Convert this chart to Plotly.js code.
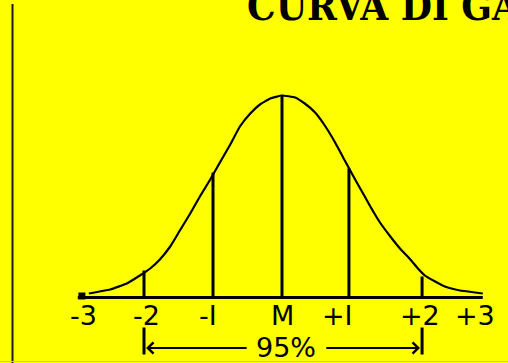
<!DOCTYPE html>
<html>
<head>
<meta charset="utf-8">
<script src="https://cdn.plot.ly/plotly-3.0.1.min.js"></script>
<style>
html,body{margin:0;padding:0;background:#ffff00;overflow:hidden;}
#chart{width:508px;height:363px;}
</style>
</head>
<body>
<div id="chart"></div>
<script>
// Bell curve: x in standard deviations from the mean, height in arbitrary units
var curveX = [-2.80,-2.49,-2.25,-2.06,-1.91,-1.77,-1.62,-1.48,-1.33,-1.19,-1.04,-0.90,-0.75,-0.61,-0.46,-0.32,-0.17,0.00,
              0.19,0.33,0.48,0.62,0.77,0.91,1.06,1.20,1.28,1.42,1.57,1.71,1.86,1.97,2.07,2.22,2.36,2.58,2.80,2.91];
var curveY = [4,8,14,22,29,38,51,67,84,101,118,135,153,171,184,193,199,202,
              200,194,185,172,155,137,118,101,91,75,61,49,38,29,22,16,11,7,5,4];

// Vertical lines under the curve (position, height reached)
var vlineX   = [-2.00,-1.00,0.00,0.97,2.03];
var vlineTop = [27,125,202,129,21];

// Baseline extent
var baseX = [-2.96,2.91];

// Tick labels under the baseline
var tickText = ['-3','-2','-I','M','+I','+2','+3'];
var tickPos  = [-2.87,-1.97,-1.07,0.00,0.81,2.00,2.80];

// 95% bracket
var spanText = '95%';
var spanEnds = [-2.00,2.03];
var spanGap  = [-0.49,0.62];

var titleText = 'CURVA DI GAUSS';

var traces = [];
// curve
traces.push({x:curveX, y:curveY, type:'scatter', mode:'lines',
  line:{color:'#000', width:2.2, shape:'spline', smoothing:0.35}, hoverinfo:'skip'});
// verticals
var vx=[], vy=[];
for (var i=0;i<vlineX.length;i++){ vx.push(vlineX[i],vlineX[i],null); vy.push(0,vlineTop[i],null); }
traces.push({x:vx, y:vy, type:'scatter', mode:'lines', line:{color:'#000', width:3}, hoverinfo:'skip'});
// baseline
traces.push({x:baseX, y:[0,0], type:'scatter', mode:'lines', line:{color:'#000', width:3}, hoverinfo:'skip'});
// small square at baseline start
traces.push({x:[baseX[0]+0.06], y:[1.5], type:'scatter', mode:'markers',
  marker:{symbol:'square', size:7, color:'#000'}, hoverinfo:'skip'});
// bracket end bars
traces.push({x:[spanEnds[0],spanEnds[0],null,spanEnds[1],spanEnds[1]], y:[-30,-57,null,-30,-57],
  type:'scatter', mode:'lines', line:{color:'#000', width:3}, hoverinfo:'skip'});

var annotations = [];
for (var j=0;j<tickText.length;j++){
  annotations.push({x:tickPos[j], y:-17.5, xref:'x', yref:'y', text:tickText[j], showarrow:false,
    xanchor:'center', yanchor:'middle', font:{family:'DejaVu Sans', size:27, color:'#000'}});
}
annotations.push({x:(spanGap[0]+spanGap[1])/2, y:-50, xref:'x', yref:'y',
  text:spanText, showarrow:false, borderpad:0,
  xanchor:'center', yanchor:'middle', font:{family:'DejaVu Sans', size:27, color:'#000'}});
// arrows
annotations.push({x:spanEnds[0]+0.03, y:-50.5, ax:spanGap[0], ay:-50.5, xref:'x', yref:'y', axref:'x', ayref:'y',
  text:'', showarrow:true, arrowhead:4, arrowsize:1.1, arrowwidth:2, arrowcolor:'#000', standoff:0, startstandoff:0});
annotations.push({x:spanEnds[1]-0.03, y:-50.5, ax:spanGap[1], ay:-50.5, xref:'x', yref:'y', axref:'x', ayref:'y',
  text:'', showarrow:true, arrowhead:4, arrowsize:1.1, arrowwidth:2, arrowcolor:'#000', standoff:0, startstandoff:0});
// title (cut off at the top right, as in the picture)
annotations.push({x:245/508, y:0.915, xref:'paper', yref:'paper', text:'<b>'+titleText+'</b>', showarrow:false,
  xanchor:'left', yanchor:'bottom', font:{family:'DejaVu Serif Condensed, DejaVu Serif', size:40, color:'#000'}});

var layout = {
  width:508, height:363,
  margin:{l:0,r:0,t:0,b:0,pad:0},
  paper_bgcolor:'#ffff00', plot_bgcolor:'#ffff00',
  showlegend:false,
  xaxis:{range:[-282/69, 226/69], visible:false, fixedrange:true},
  yaxis:{range:[-65.5, 297.5], visible:false, fixedrange:true},
  annotations:annotations,
  shapes:[
    {type:'line', xref:'paper', yref:'paper', x0:12.5/508, x1:12.5/508, y0:0, y1:359/363,
     line:{color:'#1a1a1a', width:2}},
    {type:'line', xref:'paper', yref:'paper', x0:0, x1:1, y0:1.5/363, y1:1.5/363,
     line:{color:'#d4d42a', width:1}}
  ]
};

Plotly.newPlot('chart', traces, layout, {staticPlot:true, displayModeBar:false});
</script>
</body>
</html>
